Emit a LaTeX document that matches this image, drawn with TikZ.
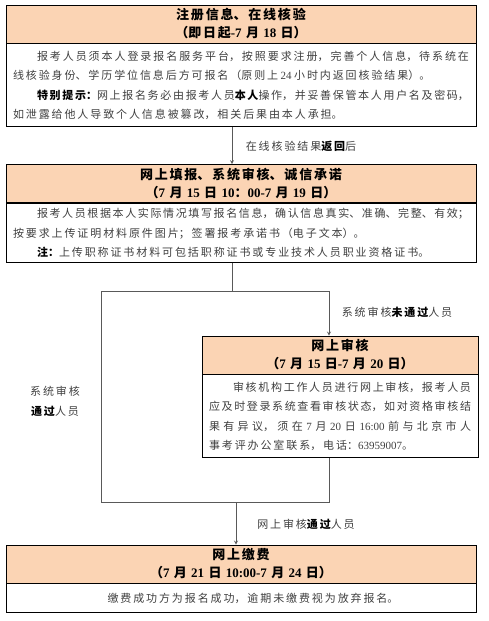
\documentclass[tikz,border=0pt]{standalone}
\usepackage{fontspec}
\setmainfont{Liberation Serif}
\newfontfamily\cjk{Noto Sans CJK SC}
\usepackage{tikz}
\usetikzlibrary{positioning}
\usetikzlibrary{shapes.geometric, arrows}
\XeTeXlinebreaklocale "zh"
\XeTeXlinebreakskip = 0pt plus 1pt
\definecolor{headfill}{HTML}{FBD4B4}
\definecolor{txtgray}{HTML}{404040}
\definecolor{linegray}{HTML}{595959}
\newcommand{\nm}[1]{{\rmfamily #1}}
\newcommand{\bk}[1]{{\bfseries\color{black}#1}}
\tikzstyle{head} = [rectangle, draw=black, fill=headfill, line width=0.8pt,
                    inner xsep=7pt, inner ysep=0pt, minimum height=38pt, align=center,
                    font={\cjk\bfseries\fontsize{13}{18}\selectfont\XeTeXlinebreakskip=1.8pt}]
\tikzstyle{body} = [rectangle, draw=black, line width=0.8pt, text=txtgray,
                    inner xsep=7pt, inner ysep=0pt, align=justify,
                    font={\cjk\fontsize{11}{19.3}\selectfont\XeTeXlinebreakskip=1.9pt plus 1.5pt minus 1pt}]
\tikzstyle{note} = [text=txtgray, inner sep=0pt, align=center,
                    font={\cjk\fontsize{11}{19.8}\selectfont\XeTeXlinebreakskip=1.9pt}]
\tikzstyle{line} = [draw=linegray, line width=0.8pt]
\tikzstyle{arrow} = [line, ->, >=stealth]

\begin{document}
\begin{tikzpicture}[x=1pt, y=1pt]
\fill[white] (0,0) rectangle (488,-621);

\node (head1) [head, text width=456pt] at (241,-24) {注册信息、在线核验\\（即日起\nm{-7} 月 \nm{18} 日）};
\node (body1) [body, text width=456pt, minimum height=83pt, below=0pt of head1] {\hspace*{24pt}报考人员须本人登录报名服务平台，按照要求注册，完善个人信息，待系统在\linebreak
线核验身份、学历学位信息后方可报名（原则上 \nm{24} 小时内返回核验结果）。\par
\hspace*{24pt}\bk{特别提示：}网上报名务必由报考人员\bk{本人}操作，并妥善保管本人用户名及密码，\linebreak
如泄露给他人导致个人信息被篡改，相关后果由本人承担。};

\node (head2) [head, text width=456pt, below=37pt of body1] {网上填报、系统审核、诚信承诺\\（\nm{7} 月 \nm{15} 日 \nm{10}：\nm{00-7} 月 \nm{19} 日）};
\node (body2) [body, text width=456pt, minimum height=59pt, below=0pt of head2] {\hspace*{24pt}报考人员根据本人实际情况填写报名信息，确认信息真实、准确、完整、有效；\linebreak
按要求上传证明材料原件图片；签署报考承诺书（电子文本）。\par
\hspace*{24pt}\bk{注：}上传职称证书材料可包括职称证书或专业技术人员职业资格证书。};

\node (head3) [head, text width=262pt] at (340,-355) {网上审核\\（\nm{7} 月 \nm{15} 日\nm{-7} 月 \nm{20} 日）};
\node (body3) [body, text width=262pt, minimum height=83pt, below=0pt of head3] {\hspace*{24pt}审核机构工作人员进行网上审核，报考人员\linebreak
应及时登录系统查看审核状态，如对资格审核结\linebreak
果有异议，须在 \nm{7} 月 \nm{20} 日 \nm{16:00} 前与北京市人\linebreak
事考评办公室联系，电话：\nm{63959007}。};

\node (head4) [head, text width=456pt] at (241,-564) {网上缴费\\（\nm{7} 月 \nm{21} 日 \nm{10:00-7} 月 \nm{24} 日）};
\node (body4) [body, text width=456pt, minimum height=29pt, align=center, below=0pt of head4,
               font={\cjk\fontsize{11}{19.3}\selectfont\XeTeXlinebreakskip=1.9pt}] {\hspace*{24pt}缴费成功方为报名成功，逾期未缴费视为放弃报名。};

% joints of the connectors
\coordinate (fork) at (232,-291);
\coordinate (forkL) at (101,-291);
\coordinate (forkR) at (329,-291);
\coordinate (joinL) at (101,-502);
\coordinate (joinR) at (329,-502);
\coordinate (join) at (236,-502);

\draw [arrow] (body1.south -| fork) -- (head2.north -| fork);
\draw [line] (body2.south -| fork) -- (fork);
\draw [line] (forkL) -- (forkR);
\draw [arrow] (forkR) -- (head3.north -| forkR);
\draw [line] (forkL) -- (joinL) -- (joinR) -- (body3.south -| joinR);
\draw [arrow] (join) -- (head4.north -| join);

\node (retlab) [note, text width=130pt] at (301,-146) {在线核验结果\bk{返回}后};
\node (faillab) [note, text width=130pt] at (397,-312) {系统审核\bk{未通过}人员};
\node (passlab) [note, text width=70pt] at (55,-401) {系统审核\\\bk{通过}人员};
\node (oklab) [note, text width=120pt] at (306,-524) {网上审核\bk{通过}人员};
\end{tikzpicture}
\end{document}
